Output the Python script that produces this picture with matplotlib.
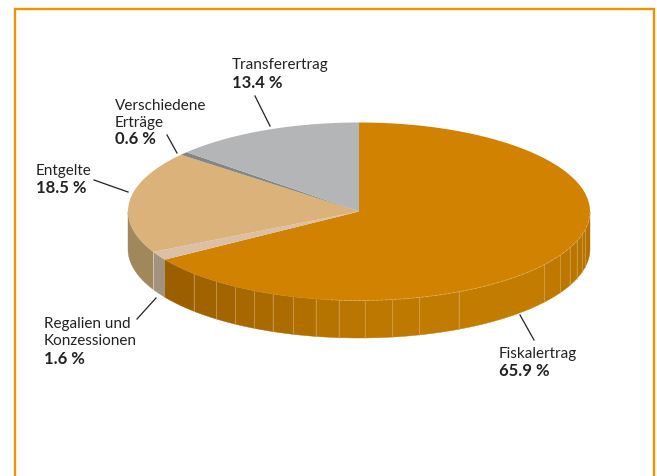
import numpy as np
import matplotlib
matplotlib.use("Agg")
import matplotlib.pyplot as plt
from matplotlib.colors import to_rgb
from matplotlib.patches import Polygon

# --- data ---
categories = ["Fiskalertrag", "Regalien und\nKonzessionen", "Entgelte", "Verschiedene\nErträge", "Transferertrag"]
values = [65.9, 1.6, 18.5, 0.6, 13.4]
value_labels = ["65.9 %", "1.6 %", "18.5 %", "0.6 %", "13.4 %"]
top_colors = ["#D18200", "#DCC0A6", "#DBB27A", "#858585", "#B4B5B7"]
side_colors = ["#C07B00", "#A39280", "#A0875C", "#777777", "#999999"]

# facet boundaries on the rim (percent of the circle, clockwise from top)
facet_pct = [28.3, 29.2, 30.4, 31.7, 33.2, 35.2, 42.9, 45.8, 47.7, 49.6, 51.4,
             53.0, 54.6, 56.1, 57.5, 59.0, 60.6, 62.7]
shade_pct = [25.0, 31.0, 37.0, 45.0, 50.0, 55.0, 60.0, 65.9]
shade_col = ["#B27000", "#BA7500", "#C37D00", "#C07B00", "#BB7700", "#AE6D00", "#A36500", "#995D00"]

fig = plt.figure(figsize=(6.57, 4.77), dpi=100)
ax = fig.add_axes([0, 0, 1, 1])
ax.set_xlim(0, 657)
ax.set_ylim(477, 0)
ax.axis("off")

CX, CY, RX, RY, DEPTH = 359, 212.5, 231, 89, 37.5


def pt(pct):
    t = np.radians(np.asarray(pct) * 3.6)
    return CX + RX * np.sin(t), CY - RY * np.cos(t)


def shade(pct):
    rgb = np.array([to_rgb(c) for c in shade_col])
    return [float(np.interp(pct, shade_pct, rgb[:, i])) for i in range(3)]


def side_poly(p0, p1, color):
    x, y = pt(np.linspace(p0, p1, 30))
    verts = list(zip(x, y)) + list(zip(x[::-1], y[::-1] + DEPTH))
    ax.add_patch(Polygon(verts, closed=True, fc=color, ec=color, lw=0.3, zorder=2))


def seam(pct, color="#DDB070", alpha=0.65):
    x, y = pt(pct)
    ax.plot([x, x], [y, y + DEPTH], color=color, lw=0.6, alpha=alpha, zorder=3)


# frame (open at the bottom)
ax.plot([14.5, 14.5, 654, 654], [477, 9.5, 9.5, 477], color="#F39200", lw=1.7,
        solid_joinstyle="miter", solid_capstyle="butt")

edges = np.concatenate([[0], np.cumsum(values)])

# rim of the first slice, facet by facet
bounds = [25.0] + facet_pct + [edges[1]]
for a, b in zip(bounds[:-1], bounds[1:]):
    side_poly(a, b, shade((a + b) / 2))
for p in facet_pct:
    seam(p)

# rim of the other slices that face the viewer
side_poly(edges[1], edges[2], side_colors[1])
side_poly(edges[2], 75.0, side_colors[2])
seam(edges[2], "#D8CDBB", 1.0)

# top faces
for i in range(len(values)):
    x, y = pt(np.linspace(edges[i], edges[i + 1], 200))
    ax.add_patch(Polygon([(CX, CY)] + list(zip(x, y)), closed=True,
                         fc=top_colors[i], ec="none", zorder=4))

# light line along the upper rim edge
x, y = pt(np.linspace(25, 52, 120))
ax.plot(x, y, color="#E8C48A", lw=0.5, alpha=0.7, ls=(0, (5, 1.5)), zorder=5)

# labels and leader lines
pos = [(499, 354), (44, 324), (36, 171), (115, 105.5), (232, 65)]
steps = [17.5, 17.5, 17.5, 17, 17.5]
leaders = [((520, 316), (534, 341)), ((156, 299), (137, 320)), ((128, 193), (94, 181)),
           ((177, 154), (167, 136)), ((270, 127), (255, 97))]
for c, v, (tx, ty), dy, (a, b) in zip(categories, value_labels, pos, steps, leaders):
    lines = c.split("\n")
    for k, line in enumerate(lines):
        ax.text(tx, ty + k * dy, line, fontsize=11, family="Lato",
                color="#222222", va="center", ha="left")
    ax.text(tx, ty + len(lines) * dy, v, fontsize=12, family="Lato", weight="bold",
            color="#222222", va="center", ha="left")
    ax.plot([a[0], b[0]], [a[1], b[1]], color="#222222", lw=0.9, zorder=6)

fig.savefig("out.png", dpi=100)
